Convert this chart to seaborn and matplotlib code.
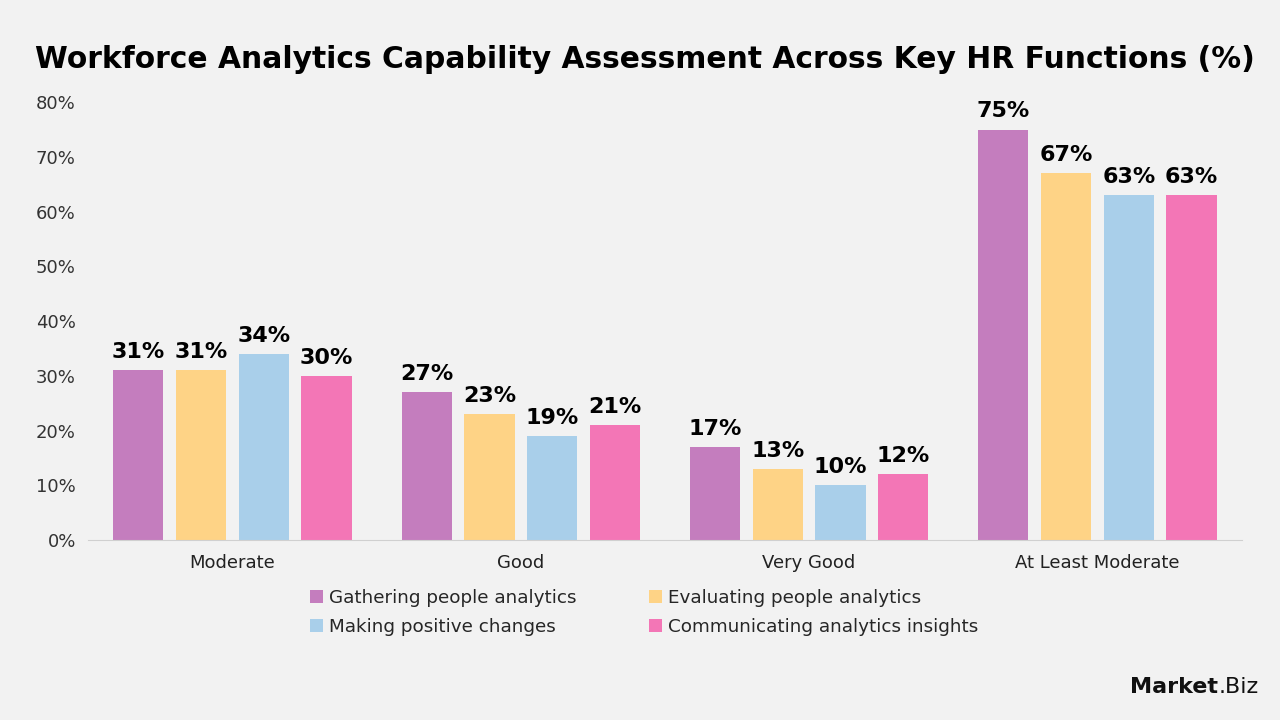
import numpy as np
import pandas as pd
import matplotlib
matplotlib.use('Agg')
import matplotlib.pyplot as plt
import seaborn as sns
from matplotlib.ticker import PercentFormatter

levels = ['Moderate', 'Good', 'Very Good', 'At Least Moderate']
series = ['Gathering people analytics', 'Evaluating people analytics',
          'Making positive changes', 'Communicating analytics insights']
gathering = [31, 27, 17, 75]
evaluating = [31, 23, 13, 67]
making = [34, 19, 10, 63]
communicating = [30, 21, 12, 63]
colors = ['#C47DBE', '#FED386', '#A9CFEA', '#F376B6']

df = pd.DataFrame({
    'level': levels * 4,
    'series': np.repeat(series, 4),
    'value': gathering + evaluating + making + communicating,
})

bg = '#F2F2F2'
sns.set_style('white')
plt.rcParams['font.family'] = ['DejaVu Sans']

fig = plt.figure(figsize=(12.8, 7.2), dpi=100, facecolor=bg)
ax = fig.add_axes([0.069, 0.25, 0.901, 0.608], facecolor=bg)

sns.barplot(data=df, x='level', y='value', hue='series', order=levels,
            hue_order=series, palette=colors, width=0.87, gap=0.2,
            saturation=1, linewidth=0, edgecolor='none', ax=ax, legend=True)

for cont in ax.containers:
    ax.bar_label(cont, fmt='%d%%', padding=6, fontsize=16, fontweight='bold',
                 color='black')

ax.set_ylim(0, 80)
ax.set_yticks(range(0, 81, 10))
ax.yaxis.set_major_formatter(PercentFormatter(decimals=0))
ax.set_xlabel('')
ax.set_ylabel('')
ax.tick_params(axis='y', labelsize=13, colors='#333333', length=0, pad=9)
ax.tick_params(axis='x', labelsize=13, colors='#222222', length=0, pad=10)
for s in ['top', 'right', 'left']:
    ax.spines[s].set_visible(False)
ax.spines['bottom'].set_color('#d0d0d0')
ax.set_xlim(-0.5, 3.5)

# row-major legend order
handles, labels = ax.get_legend_handles_labels()
order = [0, 2, 1, 3]
ax.legend([handles[i] for i in order], [labels[i] for i in order],
          loc='upper center', bbox_to_anchor=(0.482, -0.075),
          ncol=2, frameon=False, fontsize=13.2, handlelength=0.7,
          handleheight=0.7, handletextpad=0.3, columnspacing=4.0,
          labelspacing=0.6)

fig.text(0.027, 0.917, 'Workforce Analytics Capability Assessment Across Key HR Functions (%)',
         fontsize=21.4, fontweight='bold', color='black', va='center', ha='left')

t1 = fig.text(0.883, 0.037, 'Market', fontsize=16, fontweight='bold', ha='left',
              va='baseline', color='#111111')
fig.canvas.draw()
bb = t1.get_window_extent()
fig.text(bb.x1 / fig.bbox.width, 0.037, '.Biz', fontsize=16, ha='left',
         va='baseline', color='#111111')

fig.savefig('out.png', dpi=100, facecolor=bg)
